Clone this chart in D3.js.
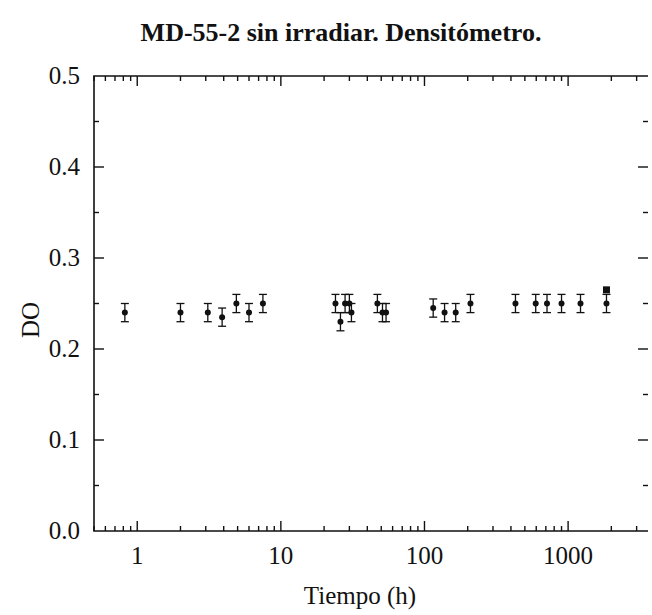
<!DOCTYPE html>
<html lang="es">
<head>
    <meta charset="UTF-8">
    <script src="https://d3js.org/d3.v7.min.js"></script>
    <title>MD-55-2 sin irradiar</title>
    <style>
        body { margin: 0; background: #fff; }
        svg text { font-family: "Liberation Serif", "DejaVu Serif", serif; fill: #111; }
    </style>
</head>
<body>
    <script>
        // datos
        var tiempo = [0.82, 2, 3.1, 3.9, 4.9, 6, 7.5, 24, 26, 28, 30, 31, 47, 51, 54, 115, 138, 165, 209, 430, 595, 713, 900, 1220, 1850]
        var densidad = [0.24, 0.24, 0.24, 0.235, 0.25, 0.24, 0.25, 0.25, 0.23, 0.25, 0.25, 0.24, 0.25, 0.24, 0.24, 0.245, 0.24, 0.24, 0.25, 0.25, 0.25, 0.25, 0.25, 0.25, 0.25]
        var error = [0.01, 0.01, 0.01, 0.01, 0.01, 0.01, 0.01, 0.01, 0.01, 0.01, 0.01, 0.01, 0.01, 0.01, 0.01, 0.01, 0.01, 0.01, 0.01, 0.01, 0.01, 0.01, 0.01, 0.01, 0.01]
        // punto cuadrado
        var tiempoCuadrado = [1850]
        var densidadCuadrado = [0.265]

        var xTicks = [1, 10, 100, 1000]
        var xMinor = [0.5, 0.6, 0.7, 0.8, 0.9, 2, 3, 4, 5, 6, 7, 8, 9, 20, 30, 40, 50, 60, 70, 80, 90, 200, 300, 400, 500, 600, 700, 800, 900, 2000, 3000]
        var yTicks = [0, 0.1, 0.2, 0.3, 0.4, 0.5]
        var yMinor = [0.05, 0.15, 0.25, 0.35, 0.45]

        var width = 652
        var height = 615
        var padding = { top: 76, right: 4, bottom: 84, left: 94 }

        var svg = d3.select("body")
            .append("svg")
            .attr("width", width)
            .attr("height", height)

        var x = d3.scaleLog()
            .domain([0.5, 3600])
            .range([padding.left, width - padding.right])
        var y = d3.scaleLinear()
            .domain([0, 0.5])
            .range([height - padding.bottom, padding.top])

        var x0 = x.range()[0], x1 = x.range()[1]
        var y0 = y.range()[0], y1 = y.range()[1]

        // marco (el borde derecho no se ve en el original)
        svg.append("path")
            .attr("d", "M" + x1 + "," + y1 + "H" + x0 + "V" + y0 + "H" + x1)
            .attr("fill", "none")
            .attr("stroke", "#111")
            .attr("stroke-width", 1.6)

        // ticks hacia dentro
        var ticks = svg.append("g").attr("stroke", "#111").attr("stroke-width", 1.4)
        function tickX(list, len) {
            list.forEach(function (d) {
                ticks.append("line").attr("x1", x(d)).attr("x2", x(d)).attr("y1", y0).attr("y2", y0 - len)
                ticks.append("line").attr("x1", x(d)).attr("x2", x(d)).attr("y1", y1).attr("y2", y1 + len)
            })
        }
        function tickY(list, len) {
            list.forEach(function (d) {
                ticks.append("line").attr("x1", x0).attr("x2", x0 + len).attr("y1", y(d)).attr("y2", y(d))
                ticks.append("line").attr("x1", x1).attr("x2", x1 - len).attr("y1", y(d)).attr("y2", y(d))
            })
        }
        tickX(xTicks, 10)
        tickX(xMinor, 5)
        tickY(yTicks.slice(1, 5), 10)
        tickY(yMinor, 5)

        // etiquetas
        svg.selectAll(".xlab")
            .data(xTicks)
            .enter()
            .append("text")
            .attr("x", function (d) { return x(d) })
            .attr("y", y0 + 33)
            .attr("text-anchor", "middle")
            .attr("font-size", "25px")
            .text(function (d) { return d })

        svg.selectAll(".ylab")
            .data(yTicks)
            .enter()
            .append("text")
            .attr("x", x0 - 14)
            .attr("y", function (d) { return y(d) + 8 })
            .attr("text-anchor", "end")
            .attr("font-size", "25px")
            .text(function (d) { return d.toFixed(1) })

        svg.append("text")
            .attr("x", 341)
            .attr("y", 41)
            .attr("text-anchor", "middle")
            .attr("font-size", "26px")
            .attr("font-weight", "bold")
            .text("MD-55-2 sin irradiar. Densitómetro.")

        svg.append("text")
            .attr("x", 360)
            .attr("y", 604)
            .attr("text-anchor", "middle")
            .attr("font-size", "25px")
            .text("Tiempo (h)")

        svg.append("text")
            .attr("transform", "translate(39,320) rotate(-90)")
            .attr("text-anchor", "middle")
            .attr("font-size", "25px")
            .text("DO")

        // barras de error
        var datos = tiempo.map(function (t, i) { return { t: t, v: densidad[i], e: error[i] } })
        var barras = svg.append("g").attr("stroke", "#111").attr("stroke-width", 1.3)
        datos.forEach(function (d) {
            barras.append("line").attr("x1", x(d.t)).attr("x2", x(d.t)).attr("y1", y(d.v - d.e)).attr("y2", y(d.v + d.e))
            barras.append("line").attr("x1", x(d.t) - 4).attr("x2", x(d.t) + 4).attr("y1", y(d.v - d.e)).attr("y2", y(d.v - d.e))
            barras.append("line").attr("x1", x(d.t) - 4).attr("x2", x(d.t) + 4).attr("y1", y(d.v + d.e)).attr("y2", y(d.v + d.e))
        })

        svg.selectAll(".punto")
            .data(datos)
            .enter()
            .append("circle")
            .attr("cx", function (d) { return x(d.t) })
            .attr("cy", function (d) { return y(d.v) })
            .attr("r", 3)
            .attr("fill", "#111")

        svg.selectAll(".cuadrado")
            .data(tiempoCuadrado)
            .enter()
            .append("rect")
            .attr("x", function (d) { return x(d) - 3.5 })
            .attr("y", function (d, i) { return y(densidadCuadrado[i]) - 3.5 })
            .attr("width", 7)
            .attr("height", 7)
            .attr("fill", "#111")
    </script>
</body>
</html>
